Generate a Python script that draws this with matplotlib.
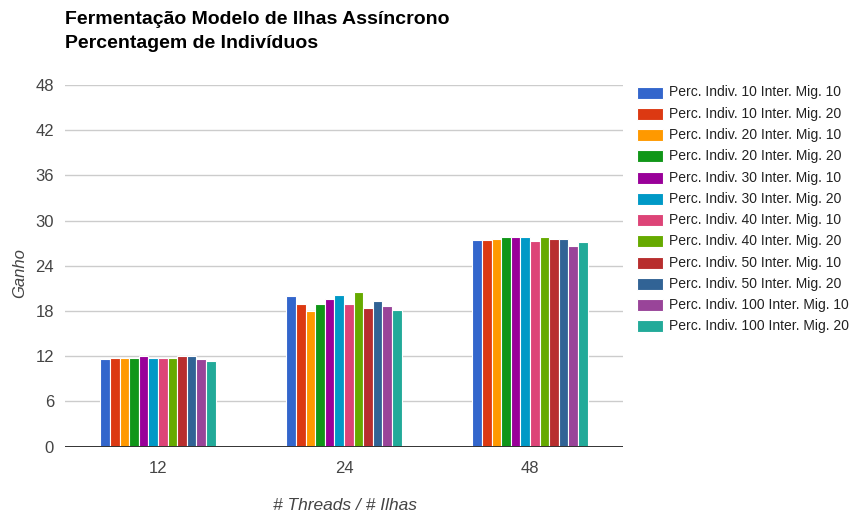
import matplotlib
matplotlib.use("Agg")
import matplotlib.pyplot as plt
from matplotlib.patches import Rectangle
import numpy as np

plt.rcParams['font.family'] = ['Liberation Sans', 'DejaVu Sans']

categories = ["12", "24", "48"]
series_names = [
    "Perc. Indiv. 10 Inter. Mig. 10",
    "Perc. Indiv. 10 Inter. Mig. 20",
    "Perc. Indiv. 20 Inter. Mig. 10",
    "Perc. Indiv. 20 Inter. Mig. 20",
    "Perc. Indiv. 30 Inter. Mig. 10",
    "Perc. Indiv. 30 Inter. Mig. 20",
    "Perc. Indiv. 40 Inter. Mig. 10",
    "Perc. Indiv. 40 Inter. Mig. 20",
    "Perc. Indiv. 50 Inter. Mig. 10",
    "Perc. Indiv. 50 Inter. Mig. 20",
    "Perc. Indiv. 100 Inter. Mig. 10",
    "Perc. Indiv. 100 Inter. Mig. 20",
]
# gain per series for 12, 24 and 48 threads/islands
values_12 = [11.6, 11.8, 11.8, 11.8, 12.0, 11.8, 11.8, 11.8, 12.0, 12.0, 11.6, 11.4]
values_24 = [20.0, 18.9, 18.0, 18.9, 19.6, 20.1, 18.9, 20.5, 18.4, 19.4, 18.7, 18.2]
values_48 = [27.4, 27.4, 27.6, 27.8, 27.8, 27.8, 27.3, 27.8, 27.6, 27.6, 26.7, 27.1]
colors = ["#3366cc", "#dc3912", "#ff9900", "#109618", "#990099", "#0099c6",
          "#dd4477", "#66aa00", "#b82e2e", "#316395", "#994499", "#22aa99"]
y_ticks = [0, 6, 12, 18, 24, 30, 36, 42, 48]

W, H = 858, 521
fig = plt.figure(figsize=(W / 100, H / 100), dpi=100)
ax = fig.add_axes([65 / W, 1 - 446.7 / H, (623 - 65) / W, (446.7 - 85) / H])

data = np.array([values_12, values_24, values_48]).T
n = len(series_names)
group_w = 0.62
bw = group_w / n
x = np.arange(len(categories))
for j in range(n):
    ax.bar(x + (j - (n - 1) / 2) * bw, data[j], width=bw, color=colors[j],
           edgecolor="white", linewidth=0.8, zorder=3)

ax.set_xlim(-0.5, len(categories) - 0.5)
ax.set_ylim(0, 48)
ax.set_yticks(y_ticks)
ax.set_yticklabels([str(t) for t in y_ticks])
ax.set_xticks(x)
ax.set_xticklabels(categories)
ax.grid(axis="y", color="#cccccc", linewidth=1, zorder=0)
ax.axhline(0, color="#333333", linewidth=1.4, zorder=4)
for s in ax.spines.values():
    s.set_visible(False)
ax.tick_params(axis="both", length=0, labelsize=12, labelcolor="#444444")
ax.tick_params(axis="y", pad=8)
ax.tick_params(axis="x", pad=10)

fig.text(20 / W, 1 - 273 / H, "Ganho", fontsize=12, fontstyle="italic",
         color="#444444", rotation=90, va="center", ha="center")
fig.text(345 / W, 1 - 506 / H, "# Threads / # Ilhas", fontsize=12.5,
         fontstyle="italic", color="#444444", va="center", ha="center")

fig.text(65 / W, 1 - 24 / H, "Fermentação Modelo de Ilhas Assíncrono",
         fontsize=14, fontweight="bold", color="#000000", va="baseline", ha="left")
fig.text(65 / W, 1 - 48 / H, "Percentagem de Indivíduos",
         fontsize=14, fontweight="bold", color="#000000", va="baseline", ha="left")

# legend
y0 = 92.5
dy = 21.27
for j, name in enumerate(series_names):
    yc = y0 + j * dy
    fig.patches.append(Rectangle((637 / W, 1 - (yc + 6) / H), 26 / W, 12 / H,
                                 transform=fig.transFigure, facecolor=colors[j],
                                 edgecolor="white", linewidth=0.8))
    fig.text(669 / W, 1 - yc / H, name, fontsize=10, color="#222222",
             va="center", ha="left")

fig.savefig("out.png", dpi=100)
